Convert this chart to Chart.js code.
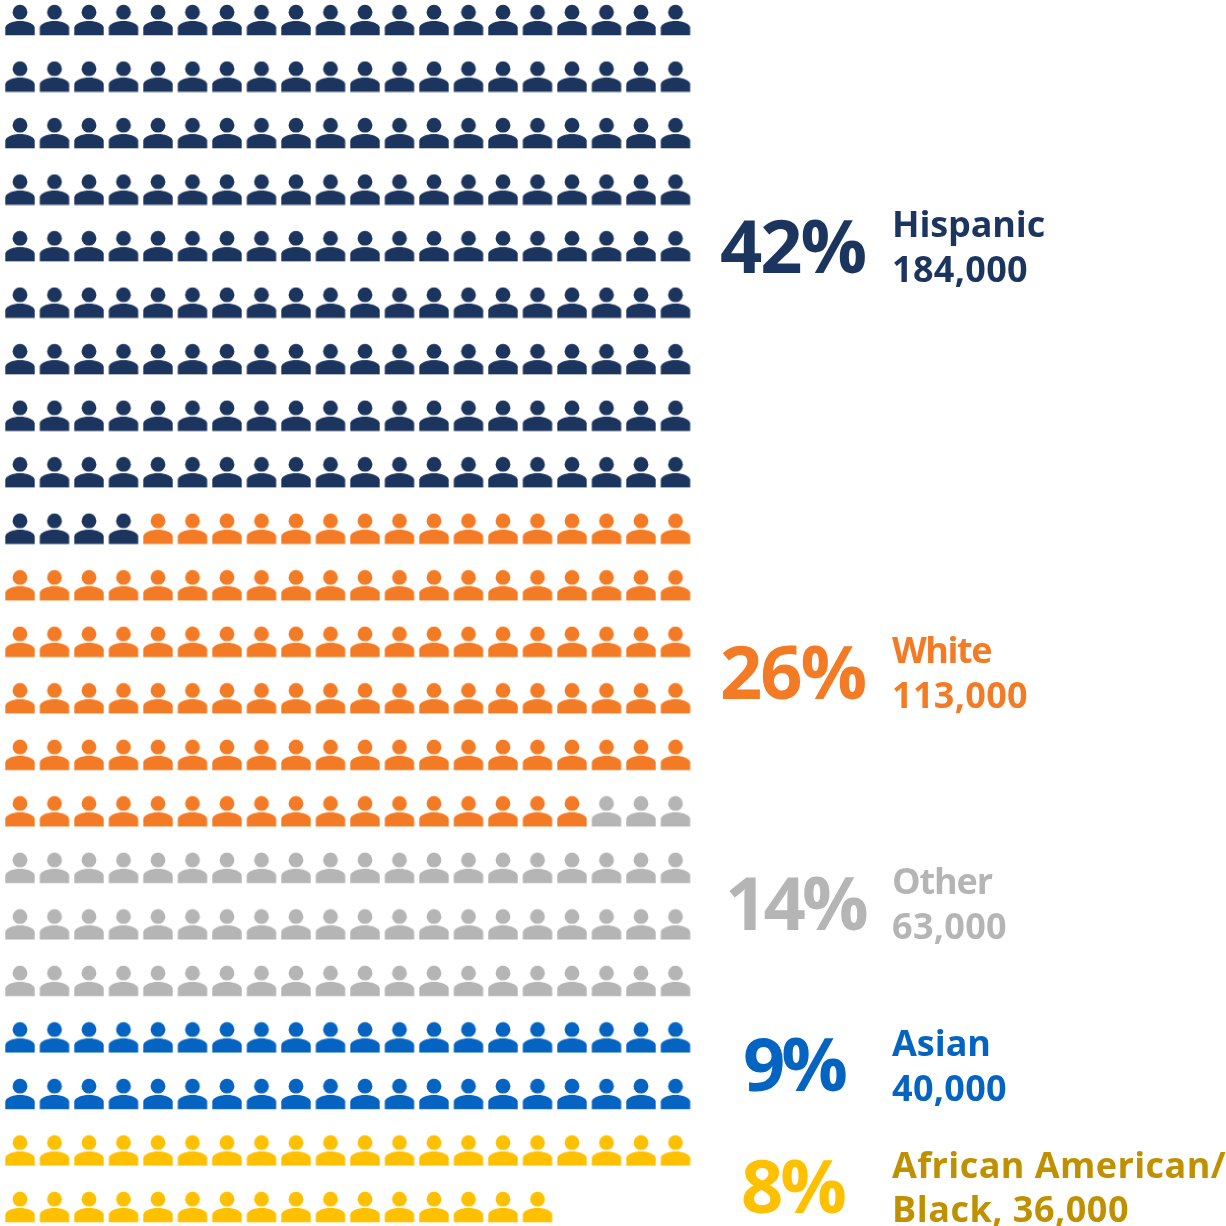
<!DOCTYPE html>
<html>
<head>
<meta charset="utf-8">
<title>Population by group</title>
<script src="https://cdn.jsdelivr.net/npm/chart.js@4"></script>
<style>
    html, body { margin: 0; padding: 0; background: #fff; }
    canvas { display: block; }
</style>
</head>
<body>
<canvas id="iconChart" width="1226" height="1226"></canvas>
<script>
// one icon = 1,000 people
const groupNames = ['Hispanic', 'White', 'Other', 'Asian', 'African American/Black'];
const groupCounts = [184, 113, 63, 40, 36];
const groupPercents = ['42%', '26%', '14%', '9%', '8%'];
const labelFirstLines = ['Hispanic', 'White', 'Other', 'Asian', 'African American/'];
const labelSecondLines = ['184,000', '113,000', '63,000', '40,000', 'Black, 36,000'];
const iconColors = ['#1C355E', '#F47B25', '#B5B5B5', '#0563C1', '#FFC000'];
const labelColors = ['#1C355E', '#F47B25', '#B5B5B5', '#0563C1', '#BF9000'];
const iconsPerRow = 20;

// baselines and widths of the text blocks, in pixels
const percentBaselines = [273, 699, 930, 1091, 1213];
const firstLineBaselines = [237, 663, 894, 1056, 1178];
const secondLineBaselines = [282, 708, 939, 1101, 1222];
const percentRights = [865, 865, 865, 844, 844];
const percentWidths = [145, 145, 140, 101, 103];
const firstLineWidths = [153, 99, 100, 99, 334];
const secondLineWidths = [136, 136, 115, 115, 237];

const colGap = 34.5;
const rowGap = 56.52;

function makeIcon(color) {
    const c = document.createElement('canvas');
    c.width = 32;
    c.height = 32;
    const g = c.getContext('2d');
    g.fillStyle = color;
    g.beginPath();
    g.arc(16, 8.2, 7.4, 0, Math.PI * 2);
    g.fill();
    g.beginPath();
    g.moveTo(1.3, 31.3);
    g.lineTo(1.3, 23.5);
    g.bezierCurveTo(2, 19.5, 9, 17, 16, 17);
    g.bezierCurveTo(23, 17, 30, 19.5, 30.7, 23.5);
    g.lineTo(30.7, 31.3);
    g.closePath();
    g.fill();
    return c;
}

function BuildDatasets() {
    const datasets = [];
    let index = 0;
    groupCounts.forEach(function (count, i) {
        const points = [];
        for (let n = 0; n < count; n++) {
            points.push({ x: index % iconsPerRow, y: Math.floor(index / iconsPerRow) });
            index++;
        }
        datasets.push({
            label: groupNames[i],
            data: points,
            pointStyle: makeIcon(iconColors[i]),
            pointRadius: 16,
            showLine: false,
            clip: false
        });
    });
    return datasets;
}

// draws text stretched to the width measured on the reference
function fitText(ctx, text, x, y, width) {
    ctx.letterSpacing = '0px';
    const natural = ctx.measureText(text).width;
    ctx.letterSpacing = ((width - natural) / text.length) + 'px';
    ctx.fillText(text, x, y);
    ctx.letterSpacing = '0px';
}

const textPlugin = {
    id: 'sideText',
    afterDatasetsDraw: function (chart) {
        const ctx = chart.ctx;
        ctx.save();
        ctx.textBaseline = 'alphabetic';
        ctx.textAlign = 'left';
        groupCounts.forEach(function (count, i) {
            ctx.font = '700 74px "Open Sans"';
            ctx.fillStyle = i === 4 ? iconColors[i] : labelColors[i];
            fitText(ctx, groupPercents[i], percentRights[i] - percentWidths[i], percentBaselines[i], percentWidths[i]);

            ctx.font = '700 36px "Open Sans"';
            ctx.fillStyle = labelColors[i];
            fitText(ctx, labelFirstLines[i], 892, firstLineBaselines[i], firstLineWidths[i]);
            fitText(ctx, labelSecondLines[i], 892, secondLineBaselines[i], secondLineWidths[i]);
        });
        ctx.restore();
    }
};

new Chart(document.getElementById('iconChart'), {
    type: 'scatter',
    data: { datasets: BuildDatasets() },
    options: {
        responsive: false,
        animation: false,
        layout: { padding: 0, autoPadding: false },
        plugins: { legend: { display: false }, tooltip: { enabled: false }, title: { display: false } },
        scales: {
            x: { display: false, bounds: 'data', min: -20 / colGap, max: (1226 - 20) / colGap },
            y: { display: false, bounds: 'data', reverse: true, min: -20 / rowGap, max: (1226 - 20) / rowGap }
        }
    },
    plugins: [textPlugin]
});
</script>
</body>
</html>
